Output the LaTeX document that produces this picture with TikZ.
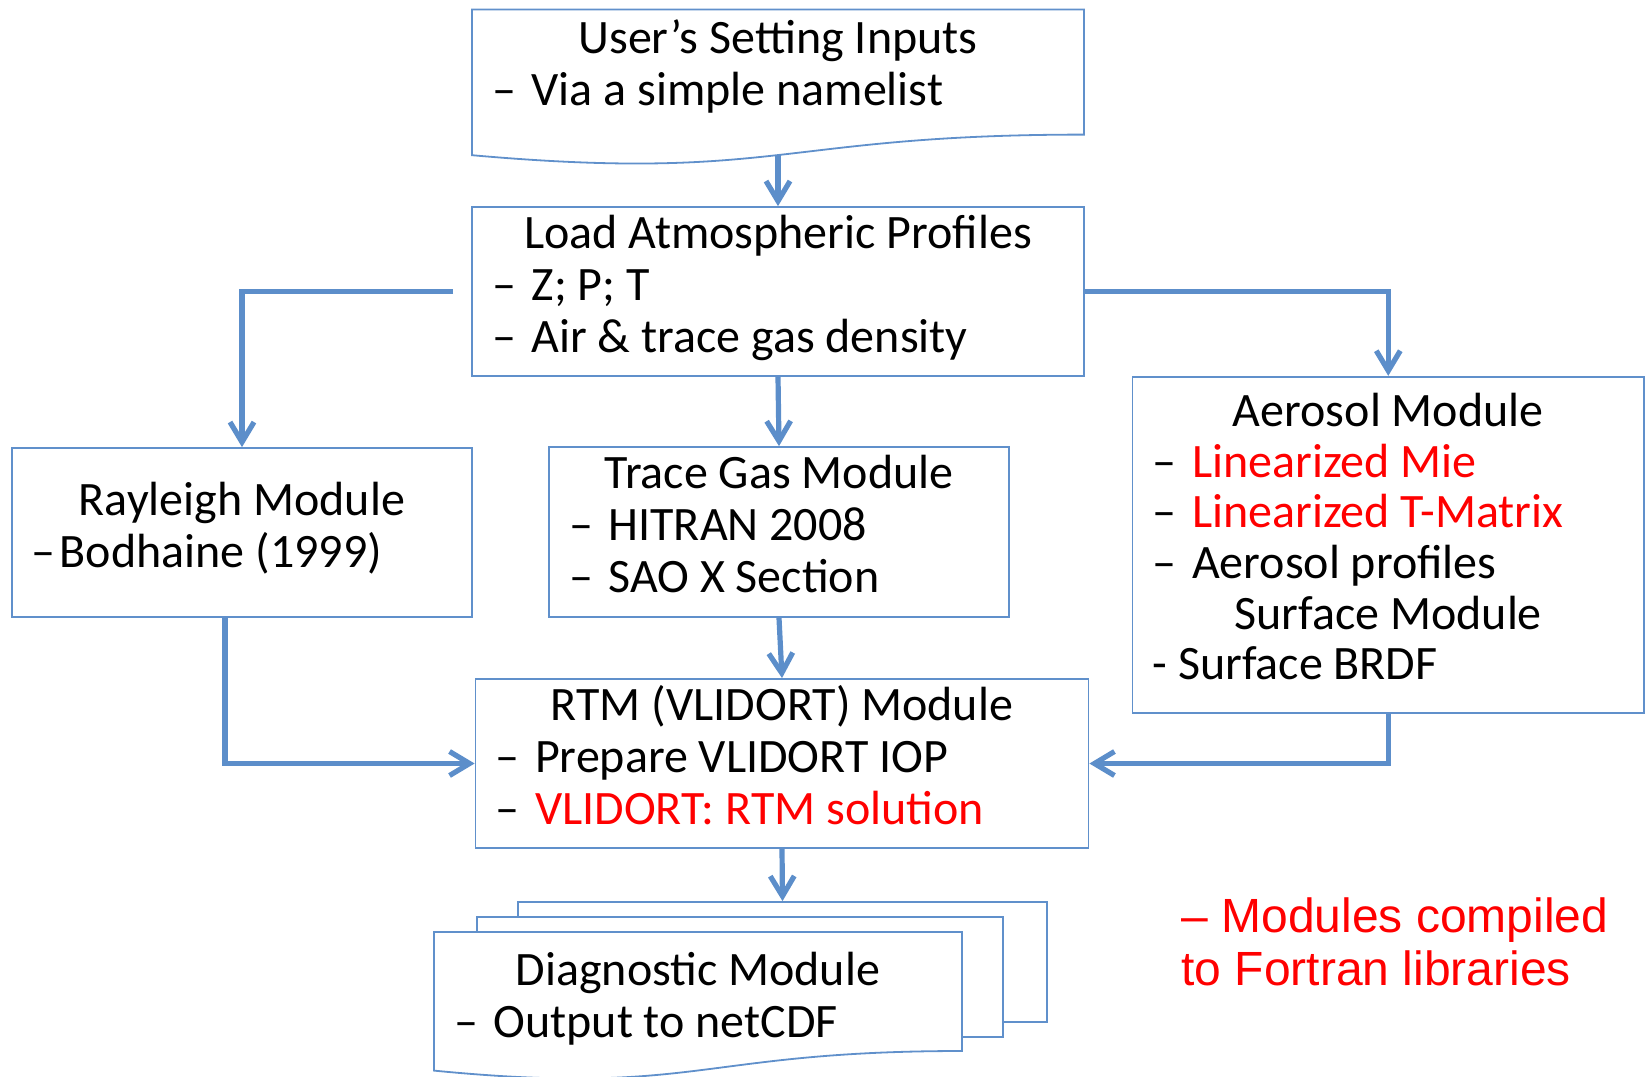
\documentclass[tikz,border=0pt]{standalone}
\usepackage{fontspec}
\setmainfont{Carlito}
\newfontfamily\notefont{Liberation Sans}
\usetikzlibrary{arrows.meta}
\definecolor{boxblue}{RGB}{96,144,203}
\definecolor{flowblue}{RGB}{92,142,202}
\newcommand{\modtitle}[1]{{\centering #1\par}}
\newcommand{\itemdash}{–\kern2.4pt\ }
\newcommand{\topstrut}{\rule{0pt}{20.5pt}}
\newcommand{\botstrut}{\rule[-12pt]{0pt}{12pt}}

\tikzset{
  sheet/.style={draw=boxblue, line width=0.9pt, fill=white, inner sep=0pt},
  modbox/.style={sheet, inner xsep=10pt, align=flush left,
    font=\fontsize{24}{26}\selectfont\frenchspacing,
    execute at begin node=\topstrut, execute at end node=\botstrut},
  doctext/.style={modbox, draw=none, fill=none},
  flow/.style={draw=flowblue, line width=2.6pt,
    -{Straight Barb[length=10pt,width=12pt]}},
  note/.style={font=\notefont\fontsize{24}{26.5}\selectfont, text=red,
    align=flush left, inner sep=0pt, text width=220pt}
}

\begin{document}
\begin{tikzpicture}[x=0.5pt,y=-0.5pt]
            \useasboundingbox (0,0) rectangle (1648,1076);

            \draw[sheet] (472,9.5) -- (1084,9.5) -- (1084,134.6)
                .. controls (778,134.6) and (778,182.3) .. coordinate[pos=0.5] (userwave) (472,155.2) -- cycle;
            \node[doctext, text width=286pt] (user) at (778,70.5)
                {\modtitle{User’s Setting Inputs}\itemdash Via a simple namelist};

            \node[modbox, text width=286pt, minimum height=84.5pt] (load) at (778,291.5)
                {\modtitle{Load Atmospheric Profiles}\itemdash Z; P; T\\\itemdash Air \& trace gas density};
            \node[modbox, text width=210pt, minimum height=84.5pt] (ray) at (242,532.5)
                {\modtitle{Rayleigh Module}–\kern2pt Bodhaine (1999)};
            \node[modbox, text width=210pt, minimum height=85pt] (trace) at (779,532)
                {\modtitle{Trace Gas Module}\itemdash HITRAN 2008\\\itemdash SAO X Section};
            \node[modbox, text width=235.75pt, minimum height=168pt, font=\fontsize{24}{25.3}\selectfont] (aer) at (1388.25,544.7)
                {\modtitle{Aerosol Module}\itemdash\textcolor{red}{Linearized Mie}\\\itemdash\textcolor{red}{Linearized T-Matrix}\\\itemdash Aerosol profiles\par\modtitle{Surface Module}- Surface BRDF};
            \node[modbox, text width=286.5pt, minimum height=84.5pt] (rtm) at (782,763.5)
                {\modtitle{RTM (VLIDORT) Module}\itemdash Prepare VLIDORT IOP\\\itemdash\textcolor{red}{VLIDORT: RTM solution}};

            \node[sheet, minimum width=264.5pt, minimum height=60pt] (diagback) at (782.5,962) {};
            \node[sheet, minimum width=263pt, minimum height=60pt] (diagmid) at (740,977) {};
            \draw[sheet] (434,932) -- (962,932) -- (962,1051)
                .. controls (698,1051) and (698,1096.4) .. (434,1070.6) -- cycle;
            \node[doctext, text width=244pt] (diag) at (698,1002.5)
                {\modtitle{Diagnostic Module}\itemdash Output to netCDF};

            \node[note, anchor=north west] (libnote) at (1181,894.6)
                {\strut– Modules compiled\\to Fortran libraries\strut};

            \draw[flow] (userwave) -- (load.north);
            \draw[flow] ([xshift=-9pt]load.west) -| (ray.north);
            \draw[flow] (load.east) -| (aer.north);
            \draw[flow] (load.south) -- (trace.north);
            \draw[flow] (trace.south) -- (rtm.north);
            \draw[flow] ([xshift=-8.5pt]ray.south) |- (rtm.west);
            \draw[flow] (aer.south) |- (rtm.east);
            \draw[flow] (rtm.south) -- (diagback.north);
\end{tikzpicture}
\end{document}
